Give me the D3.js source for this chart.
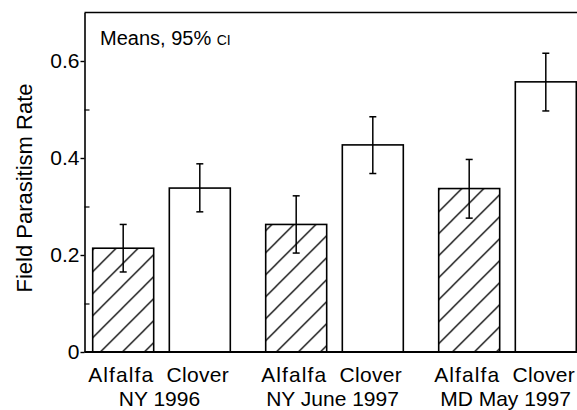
<!DOCTYPE html>
<html>
<head>
<meta charset="utf-8">
<script src="https://cdn.jsdelivr.net/npm/d3@7"></script>
<style>
  html, body { margin: 0; padding: 0; background: #fff; overflow: hidden; }
  svg { display: block; }
  text { font-family: "Liberation Sans", Arial, Helvetica, sans-serif; fill: #000; }
</style>
</head>
<body>
<svg id="chart" width="577" height="410"></svg>
<script>
// ---- data ----
const groups = ["NY 1996", "NY June 1997", "MD May 1997"];
const crops = ["Alfalfa", "Clover"];
const means = [
  [0.214, 0.338],
  [0.263, 0.427],
  [0.337, 0.557]
];
const lower = [
  [0.165, 0.289],
  [0.204, 0.368],
  [0.276, 0.497]
];
const upper = [
  [0.263, 0.388],
  [0.322, 0.485],
  [0.397, 0.616]
];
const majorTicks = [0, 0.2, 0.4, 0.6];
const minorTicks = [0.1, 0.3, 0.5];
const yLabel = "Field Parasitism Rate";

// ---- layout ----
const svg = d3.select("#chart");
const axisX = 84.5;
const y = d3.scaleLinear().domain([0, 0.7]).range([352, 12.5]);
const x0 = d3.scaleBand().domain(groups).range([75, 594]).padding(0);
const x1 = d3.scaleBand().domain(crops).range([0, x0.bandwidth()])
  .paddingInner(0.204).paddingOuter(0.231);

const rows = [];
groups.forEach((g, gi) => crops.forEach((c, ci) => rows.push({
  group: g, crop: c, mean: means[gi][ci], lo: lower[gi][ci], hi: upper[gi][ci]
})));

// hatch pattern (absolute coordinates)
const defs = svg.append("defs");
const pat = defs.append("pattern")
  .attr("id", "hatch").attr("patternUnits", "userSpaceOnUse")
  .attr("x", 12.4).attr("y", 0).attr("width", 22).attr("height", 22);
pat.append("path")
  .attr("d", "M0,22 L22,0 M-3,3 L3,-3 M19,25 L25,19")
  .attr("stroke", "#000").attr("stroke-width", 1.3).attr("fill", "none");

// bars
const bx = d => x0(d.group) + x1(d.crop);
svg.append("g").selectAll("rect").data(rows).join("rect")
  .attr("x", d => bx(d))
  .attr("y", d => y(d.mean))
  .attr("width", x1.bandwidth())
  .attr("height", d => y(0) - y(d.mean))
  .attr("fill", d => d.crop === "Alfalfa" ? "url(#hatch)" : "#fff")
  .attr("stroke", "#000").attr("stroke-width", 1.6);

// error bars
const eg = svg.append("g").attr("stroke", "#000").attr("stroke-width", 1.5);
const cx = d => bx(d) + x1.bandwidth() / 2;
eg.selectAll("line.v").data(rows).join("line").attr("class", "v")
  .attr("x1", cx).attr("x2", cx).attr("y1", d => y(d.hi)).attr("y2", d => y(d.lo));
eg.selectAll("line.t").data(rows).join("line").attr("class", "t")
  .attr("x1", d => cx(d) - 3.5).attr("x2", d => cx(d) + 3.5)
  .attr("y1", d => y(d.hi)).attr("y2", d => y(d.hi));
eg.selectAll("line.b").data(rows).join("line").attr("class", "b")
  .attr("x1", d => cx(d) - 3.5).attr("x2", d => cx(d) + 3.5)
  .attr("y1", d => y(d.lo)).attr("y2", d => y(d.lo));

// frame lines (top and bottom)
svg.append("line").attr("x1", axisX).attr("x2", 600)
  .attr("y1", y(0)).attr("y2", y(0)).attr("stroke", "#000").attr("stroke-width", 1.8);
svg.append("line").attr("x1", axisX).attr("x2", 600)
  .attr("y1", y(0.7)).attr("y2", y(0.7)).attr("stroke", "#000").attr("stroke-width", 1.6);

// y axis
const yAxis = svg.append("g").attr("transform", `translate(${axisX},0)`)
  .call(d3.axisLeft(y).tickValues(majorTicks).tickSize(4).tickSizeOuter(0).tickPadding(1)
    .tickFormat(d => d === 0 ? "0" : d3.format(".1f")(d)));
yAxis.select(".domain").attr("stroke-width", 1.6);
yAxis.selectAll(".tick line").attr("stroke-width", 1.4);
yAxis.selectAll("text").attr("font-size", 21).attr("font-family", null);

const yMinor = svg.append("g").attr("transform", `translate(${axisX},0)`)
  .call(d3.axisLeft(y).tickValues(minorTicks).tickSize(-5).tickSizeOuter(0).tickFormat(""));
yMinor.select(".domain").remove();
yMinor.selectAll(".tick line").attr("stroke-width", 1.2);

// y label
svg.append("text")
  .attr("transform", "translate(32,188) rotate(-90)")
  .attr("text-anchor", "middle").attr("font-size", 22)
  .text(yLabel);

// x labels
svg.append("g").selectAll("text").data(rows).join("text")
  .attr("x", d => cx(d) - 2).attr("y", 382).attr("text-anchor", "middle").attr("font-size", 21)
  .attr("letter-spacing", d => d.crop === "Alfalfa" ? 1.1 : 0.3)
  .text(d => d.crop);
svg.append("g").selectAll("text").data(groups).join("text")
  .attr("x", d => x0(d) + x0.bandwidth() / 2 - 2).attr("y", 406)
  .attr("text-anchor", "middle").attr("font-size", 21)
  .text(d => d);

// annotation
const ann = svg.append("text").attr("x", 100).attr("y", 45).attr("font-size", 20);
ann.append("tspan").text("Means, 95% ");
ann.append("tspan").attr("font-size", 14).text("CI");
</script>
</body>
</html>
